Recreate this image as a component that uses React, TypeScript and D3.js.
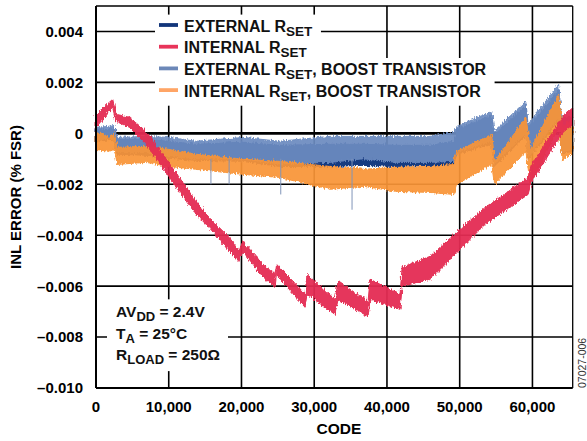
import React, { useEffect, useRef } from 'react'
import * as d3 from 'd3'

// ------------------------------------------------------------------ //
// INL error vs code, four series drawn as noisy bands (lo/hi envelope)

const W = 587
const H = 441

const xTicks = [0, 10000, 20000, 30000, 40000, 50000, 60000]
const yTicks = [-0.01, -0.008, -0.006, -0.004, -0.002, 0, 0.002, 0.004]

// EXTERNAL RSET (navy) - mostly hidden under the boost band
const extCodes = [0, 1800, 2500, 2900, 6900, 10000, 13700, 20200, 25200, 32200, 36700, 41400, 45900, 49200, 49600, 54400, 54700, 59100, 59400, 63600, 64000, 65535]
const extHi = [0.00016, 0.00016, 0.00024, -0.00024, -0.00024, -0.00031, -0.00043, -0.00035, -0.00047, -0.00043, -0.00043, -0.00047, -0.00047, -0.00031, 0.00016, 0.00071, -0.00008, 0.0011, 0.00024, 0.0017, 0.00047, 0.00047]
const extLo = [-0.00035, -0.00024, -0.00031, -0.00082, -0.00086, -0.00098, -0.00106, -0.0011, -0.0013, -0.0013, -0.00126, -0.0013, -0.00126, -0.00122, -0.00082, -0.00043, -0.0013, -0.0001, -0.00102, 0.00051, -0.00078, -0.00071]

// EXTERNAL RSET, BOOST TRANSISTOR (light blue)
const extBoostCodes = [0, 1800, 2500, 2900, 6900, 10000, 13700, 20200, 25200, 32200, 36700, 41400, 45900, 49200, 49600, 54400, 54700, 59100, 59400, 63600, 64000, 65535]
const extBoostHi = [0.00024, 0.00027, 0.00031, -0.00016, -0.00012, -0.00016, -0.00031, -0.00016, -0.00031, -0.00012, -0.00012, -0.00012, -0.00012, 0.00004, 0.00027, 0.00086, 0.00008, 0.00126, 0.00035, 0.00192, 0.00063, 0.00063]
const extBoostLo = [-0.00031, -0.00016, -0.00024, -0.00075, -0.00075, -0.0009, -0.001, -0.001, -0.0012, -0.00114, -0.001, -0.00114, -0.00114, -0.0011, -0.00071, -0.00031, -0.00122, 0, -0.00094, 0.00063, -0.00071, -0.00063]

// INTERNAL RSET, BOOST TRANSISTOR (orange)
const intBoostCodes = [0, 1800, 2500, 2900, 6900, 10000, 13700, 20200, 25200, 32200, 36700, 41400, 45900, 49200, 49600, 54400, 54800, 59100, 59700, 63600, 64100, 65535]
const intBoostHi = [0.00008, -0.00016, 0.00004, -0.00055, -0.00051, -0.00063, -0.00082, -0.00102, -0.0011, -0.0013, -0.00141, -0.00134, -0.0013, -0.00122, -0.00071, -0.00004, -0.0011, 0.00063, -0.00063, 0.00153, 0.00024, 0.00063]
const intBoostLo = [-0.00063, -0.00071, -0.00063, -0.00122, -0.00114, -0.0013, -0.00141, -0.00161, -0.00173, -0.0022, -0.00208, -0.00228, -0.00232, -0.0024, -0.002, -0.00122, -0.002, -0.00071, -0.002, 0.00024, -0.0011, -0.00071]

// INTERNAL RSET (red)
const intCodes = [0, 2300, 2750, 4580, 6880, 9170, 11450, 13750, 15540, 18330, 19660, 20170, 22920, 24610, 24820, 27500, 28740, 29010, 32860, 33280, 37400, 37680, 41800, 42080, 45930, 50050, 53490, 56510, 59400, 59810, 62420, 64210, 65535]
const intHi = [0.00075, 0.00134, 0.00075, 0.00063, 0.00008, -0.00082, -0.00173, -0.00267, -0.0033, -0.00409, -0.00463, -0.00424, -0.00514, -0.00554, -0.00514, -0.00593, -0.00632, -0.00554, -0.00652, -0.00581, -0.0066, -0.00573, -0.00632, -0.00526, -0.00483, -0.00377, -0.00291, -0.00232, -0.00173, -0.00126, -0.00012, 0.00067, 0.001]
const intLo = [0.00024, 0.001, 0.00047, 0.00024, -0.00043, -0.00134, -0.00228, -0.00318, -0.00369, -0.00463, -0.00503, -0.00463, -0.00562, -0.00605, -0.00554, -0.00644, -0.00683, -0.00632, -0.00711, -0.00652, -0.00719, -0.00652, -0.00691, -0.00601, -0.00573, -0.00456, -0.00357, -0.00298, -0.0024, -0.00196, -0.00075, 0.00004, 0.00035]

// thin glitch spikes on the boost curve
const spikeCodes = [15800, 18300, 25400, 35200]
const spikeLows = [-0.002, -0.002, -0.0024, -0.003]

const NAVY = '#173a80'
const RED = '#e42c52'
const LIGHTBLUE = '#6c8bc0'
const ORANGE = '#f99538'

const legendItems = [
    { main: 'EXTERNAL R', sub: 'SET', rest: '', color: NAVY, swatch: '#12357a' },
    { main: 'INTERNAL R', sub: 'SET', rest: '', color: RED, swatch: '#e8345a' },
    { main: 'EXTERNAL R', sub: 'SET', rest: ', BOOST TRANSISTOR', color: LIGHTBLUE, swatch: '#6c88b8' },
    { main: 'INTERNAL R', sub: 'SET', rest: ', BOOST TRANSISTOR', color: ORANGE, swatch: '#ffa566' },
]

const notes = [
    { main: 'AV', sub: 'DD', rest: ' = 2.4V' },
    { main: 'T', sub: 'A', rest: ' = 25°C' },
    { main: 'R', sub: 'LOAD', rest: ' = 250Ω' },
]

const FONT = "'Liberation Sans', Arial, Helvetica, sans-serif"

function zip(codes: number[], lo: number[], hi: number[]) {
    return codes.map((c, i) => ({ code: c, lo: lo[i], hi: hi[i] }))
}

function subText(sel: any, d: { main: string; sub: string; rest: string }, size: number, subSize: number) {
    sel.append('tspan').text(d.main).attr('font-size', size)
    sel.append('tspan').text(d.sub).attr('font-size', subSize).attr('dy', 4)
    sel.append('tspan').text(d.rest).attr('font-size', size).attr('dy', -4)
}

function drawChart(el: SVGSVGElement) {
    const svg = d3.select(el)
    svg.selectAll('*').remove()

    const left = 96, right = 572.7, top = 6, bottom = 388
    const x = d3.scaleLinear().domain([0, 65535]).range([left, right])
    const y = d3.scaleLinear().domain([-0.01, 0.005]).range([bottom, top])

    svg.append('rect').attr('width', W).attr('height', H).attr('fill', 'white')

    // rough edges for the noisy bands
    const defs = svg.append('defs')
    const f = defs.append('filter').attr('id', 'noisy')
        .attr('x', '-2%').attr('y', '-10%').attr('width', '104%').attr('height', '120%')
    f.append('feTurbulence').attr('type', 'fractalNoise')
        .attr('baseFrequency', '0.9 0.2').attr('numOctaves', 2).attr('seed', 4).attr('result', 't')
    f.append('feDisplacementMap').attr('in', 'SourceGraphic').attr('in2', 't')
        .attr('scale', 5).attr('xChannelSelector', 'R').attr('yChannelSelector', 'G')

    // grid
    const grid = svg.append('g')
    grid.selectAll('.vx').data(xTicks.filter(t => t > 0)).enter().append('line')
        .attr('x1', d => x(d)).attr('x2', d => x(d)).attr('y1', top).attr('y2', bottom)
        .attr('stroke', '#000').attr('stroke-width', 1.6)
    grid.selectAll('.hy').data(yTicks.filter(t => t > -0.01)).enter().append('line')
        .attr('x1', left).attr('x2', right).attr('y1', d => y(d)).attr('y2', d => y(d))
        .attr('stroke', '#000').attr('stroke-width', d => d === 0 ? 2.6 : 1.6)

    // bands
    const area = d3.area<{ code: number; lo: number; hi: number }>()
        .x(d => x(d.code)).y0(d => y(d.lo)).y1(d => y(d.hi))
    const bands = svg.append('g').attr('filter', 'url(#noisy)')
    const series = [
        { data: zip(extCodes, extLo, extHi), color: NAVY, op: 1 },
        { data: zip(extBoostCodes, extBoostLo, extBoostHi), color: LIGHTBLUE, op: 0.93 },
        { data: zip(intBoostCodes, intBoostLo, intBoostHi), color: ORANGE, op: 0.93 },
        { data: zip(intCodes, intLo, intHi), color: RED, op: 0.95 },
    ]
    series.forEach(s => {
        bands.append('path').attr('d', area(s.data) as string)
            .attr('fill', s.color).attr('stroke', s.color).attr('stroke-width', 1)
            .attr('fill-opacity', s.op).attr('stroke-opacity', s.op)
    })
    svg.append('g').selectAll('line').data(spikeCodes).enter().append('line')
        .attr('x1', d => x(d)).attr('x2', d => x(d))
        .attr('y1', y(-0.001)).attr('y2', (d, i) => y(spikeLows[i]))
        .attr('stroke', '#8094b8').attr('stroke-width', 1)

    // frame
    svg.append('line').attr('x1', left).attr('x2', left).attr('y1', top).attr('y2', bottom)
        .attr('stroke', '#000').attr('stroke-width', 2)
    svg.append('line').attr('x1', left).attr('x2', right).attr('y1', bottom).attr('y2', bottom)
        .attr('stroke', '#000').attr('stroke-width', 2)
    svg.append('line').attr('x1', left).attr('x2', right).attr('y1', top).attr('y2', top)
        .attr('stroke', '#000').attr('stroke-width', 1.3)
    svg.append('line').attr('x1', right).attr('x2', right).attr('y1', top).attr('y2', bottom)
        .attr('stroke', '#000').attr('stroke-width', 1.3)

    // tick labels
    const fmtY = (v: number) => v === 0 ? '0' : (v < 0 ? '\u2013' : '') + Math.abs(v).toFixed(3)
    svg.append('g').selectAll('text').data(yTicks).enter().append('text')
        .attr('x', left - 13).attr('y', d => y(d)).attr('dy', '0.36em')
        .attr('text-anchor', 'end').attr('font-family', FONT).attr('font-weight', 'bold')
        .attr('font-size', 15).text(fmtY)
    svg.append('g').selectAll('text').data(xTicks).enter().append('text')
        .attr('x', d => x(d)).attr('y', 411.5)
        .attr('text-anchor', 'middle').attr('font-family', FONT).attr('font-weight', 'bold')
        .attr('font-size', 15).text(d => d3.format(',')(d))

    svg.append('text').attr('x', 339).attr('y', 434).attr('text-anchor', 'middle')
        .attr('font-family', FONT).attr('font-weight', 'bold').attr('font-size', 15.5).text('CODE')
    svg.append('text').attr('transform', `translate(21, ${(top + bottom) / 2}) rotate(-90)`)
        .attr('text-anchor', 'middle').attr('font-family', FONT).attr('font-weight', 'bold')
        .attr('font-size', 15).text('INL ERROR (% FSR)')

    svg.append('text').attr('transform', `translate(586, ${bottom}) rotate(-90)`)
        .attr('font-family', FONT).attr('font-size', 10.5).attr('fill', '#333').text('07027-006')

    // legend
    const leg = svg.append('g')
    const legBg = leg.append('g')
    const rows = legendItems.map((d, i) => {
        const ry = 25 + i * 21.7
        const g = leg.append('g')
        g.append('line').attr('x1', 159).attr('x2', 178).attr('y1', ry).attr('y2', ry)
            .attr('stroke', d.swatch).attr('stroke-width', 3.8)
        const t = g.append('text').attr('x', 184).attr('y', ry + 6.6)
            .attr('font-family', FONT).attr('font-weight', 'bold').attr('fill', '#111')
        subText(t, d, 16, 13.5)
        return g.node() as SVGGElement
    })
    ;[[0, 1], [2, 3]].forEach(pair => {
        const boxes = pair.map(i => rows[i].getBBox())
        const x0 = d3.min(boxes, b => b.x) as number
        const x1 = d3.max(boxes, b => b.x + b.width) as number
        const y0 = d3.min(boxes, b => b.y) as number
        const y1 = d3.max(boxes, b => b.y + b.height) as number
        legBg.append('rect').attr('x', x0 - 4).attr('y', y0 - 3)
            .attr('width', x1 - x0 + 12).attr('height', y1 - y0 + 5).attr('fill', 'white')
    })

    // conditions box
    const note = svg.append('g')
    const noteBg = note.append('g')
    const noteTexts = note.append('g')
    notes.forEach((d, i) => {
        const t = noteTexts.append('text').attr('x', 116).attr('y', 317.3 + i * 21.4)
            .attr('font-family', FONT).attr('font-weight', 'bold').attr('fill', '#111')
        subText(t, d, 15.5, 13)
    })
    const nb = (noteTexts.node() as SVGGElement).getBBox()
    noteBg.append('rect').attr('x', nb.x - 9).attr('y', nb.y - 4)
        .attr('width', nb.width + 17).attr('height', nb.height + 8).attr('fill', 'white')
}

export default function App() {
    const ref = useRef<SVGSVGElement>(null)
    useEffect(() => {
        if (ref.current) drawChart(ref.current)
    }, [])
    return (
        <svg ref={ref} width={W} height={H}
            style={{ position: 'absolute', left: 0, top: 0, display: 'block' }} />
    )
}
